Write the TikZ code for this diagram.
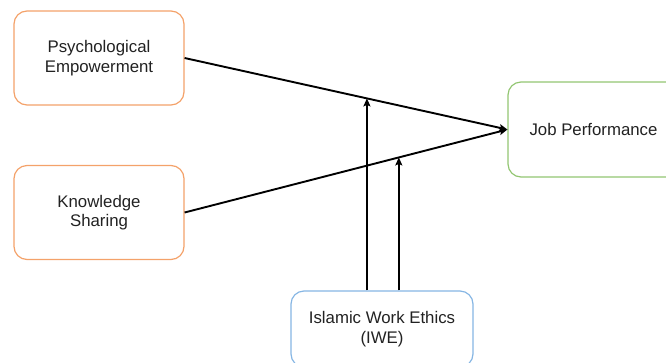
\documentclass[tikz,border=0pt]{standalone}
\usepackage{fontspec}
\setmainfont{Liberation Sans}
\usetikzlibrary{arrows.meta,calc}
\definecolor{orangeline}{HTML}{F4A26A}
\definecolor{greenline}{HTML}{93C672}
\definecolor{blueline}{HTML}{86B6E4}
\definecolor{textgray}{HTML}{222222}
\begin{document}
\begin{tikzpicture}[x=1pt,y=-1pt,
  box/.style={draw, line width=1.2pt, rounded corners=13pt, fill=white,
    text=textgray, align=center, inner sep=0pt,
    font=\fontsize{16.8}{19.5}\selectfont},
  link/.style={line width=1.9pt, -{Stealth[length=8pt,width=7pt,inset=1.5pt]}}]
\useasboundingbox (0,0) rectangle (666,362);
% constructs
\node[box, draw=orangeline, minimum width=170pt, minimum height=94pt] (pe) at (99,58) {Psychological\\Empowerment};
\node[box, draw=orangeline, minimum width=170pt, minimum height=94pt] (ks) at (99,212.5) {Knowledge\\Sharing};
\node[box, draw=greenline, minimum width=171pt, minimum height=95pt] (jp) at (593.5,129.5) {Job Performance};
\node[box, draw=blueline, minimum width=182pt, minimum height=76pt] (iwe) at (382,329) {Islamic Work Ethics\\(IWE)};
% direct effects
\draw[link] (pe.east) -- coordinate[pos=0.5648] (m1) (jp.west);
\draw[link] (ks.east) -- coordinate[pos=0.6636] (m2) (jp.west);
% moderation
\draw[link] (m1 |- iwe.north) -- (m1);
\draw[link] (m2 |- iwe.north) -- (m2);
\end{tikzpicture}
\end{document}
